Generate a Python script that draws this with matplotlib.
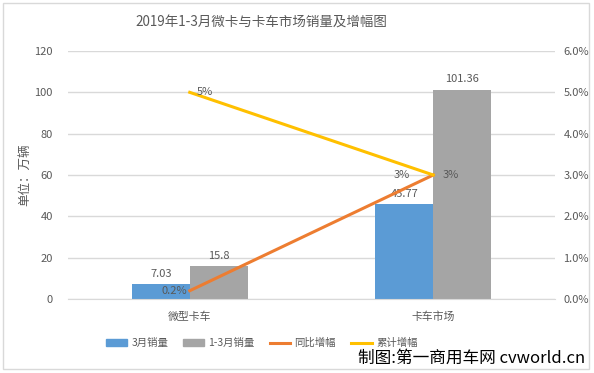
import matplotlib
matplotlib.use("Agg")
import matplotlib.pyplot as plt
from matplotlib.patches import Rectangle
from matplotlib.lines import Line2D
from matplotlib.patches import Patch

plt.rcParams['font.family'] = ['Noto Sans CJK SC', 'DejaVu Sans']

categories = ['微型卡车', '卡车市场']
march_sales = [7.03, 45.77]
q1_sales = [15.8, 101.36]
yoy_growth = [0.2, 3.0]      # percent
cum_growth = [5.0, 3.0]      # percent
yoy_labels = ['0.2%', '3%']
cum_labels = ['5%', '3%']
left_ticks = [0, 20, 40, 60, 80, 100, 120]
right_ticks = [0, 1, 2, 3, 4, 5, 6]

BLUE = '#5B9BD5'
GRAY = '#A5A5A5'
ORANGE = '#ED7D31'
YELLOW = '#FFC000'
TXT = '#595959'
FS = 8

W, H = 594, 373
fig = plt.figure(figsize=(W / 100, H / 100), dpi=100)

# chart border
fig.add_artist(Rectangle((3 / W, 4 / H), 586 / W, 366 / H, transform=fig.transFigure,
                         fill=False, edgecolor='#D9D9D9', linewidth=1))

ax = fig.add_axes([68 / W, (H - 299) / H, (555 - 68) / W, (299 - 51) / H])
ax2 = ax.twinx()

x = list(range(len(categories)))
bw = 0.238
ax.bar([i - bw / 2 for i in x], march_sales, width=bw, color=BLUE, zorder=2)
ax.bar([i + bw / 2 for i in x], q1_sales, width=bw, color=GRAY, zorder=2)

ax.set_xlim(-0.5, 1.5)
ax.set_ylim(0, 120)
ax.set_yticks(left_ticks)
ax.set_yticklabels([str(t) for t in left_ticks])
ax.grid(axis='y', color='#D9D9D9', linewidth=1, zorder=0)
ax.set_axisbelow(True)
ax.set_xticks(x)
ax.set_xticklabels(categories, fontsize=7.8)
for s in ax.spines.values():
    s.set_visible(False)
for s in ax2.spines.values():
    s.set_visible(False)
ax.spines['bottom'].set_visible(True)
ax.spines['bottom'].set_color('#D9D9D9')
ax.tick_params(axis='both', length=0, colors=TXT)
ax.tick_params(axis='y', labelsize=FS, pad=11)
ax.tick_params(axis='x', pad=9)

fig.text(25 / W, 1 - 175 / H, '单位：万辆', rotation=90, ha='center', va='center',
         color=TXT, fontsize=9)

for i in x:
    ax.annotate(f'{march_sales[i]:g}', (i - bw / 2, march_sales[i]), xytext=(0, 4),
                textcoords='offset points', ha='center', va='bottom', color=TXT, fontsize=FS)
    ax.annotate(f'{q1_sales[i]:g}', (i + bw / 2, q1_sales[i]), xytext=(0, 4),
                textcoords='offset points', ha='center', va='bottom', color=TXT, fontsize=FS)

ax2.set_ylim(0, 6)
ax2.set_yticks(right_ticks)
ax2.set_yticklabels([f'{t:.1f}%' for t in right_ticks])
ax2.tick_params(axis='y', length=0, colors=TXT, labelsize=FS, pad=6)

ax2.plot(x, yoy_growth, color=ORANGE, linewidth=2.2, zorder=3)
ax2.plot(x, cum_growth, color=YELLOW, linewidth=2.2, zorder=3)

# line labels
ax2.annotate(yoy_labels[0], (x[0], yoy_growth[0]), xytext=(-2, 0), textcoords='offset points',
             ha='right', va='center', color=TXT, fontsize=FS)
ax2.annotate(yoy_labels[1], (x[1], yoy_growth[1]), xytext=(-17, 0), textcoords='offset points',
             ha='right', va='center', color=TXT, fontsize=FS)
ax2.annotate(cum_labels[0], (x[0], cum_growth[0]), xytext=(5, 0), textcoords='offset points',
             ha='left', va='center', color=TXT, fontsize=FS)
ax2.annotate(cum_labels[1], (x[1], cum_growth[1]), xytext=(7, 0), textcoords='offset points',
             ha='left', va='center', color=TXT, fontsize=FS)

fig.text(261 / W, 1 - 22.5 / H, '2019年1-3月微卡与卡车市场销量及增幅图', ha='center', va='center',
         color=TXT, fontsize=9.7)

handles = [Patch(color=BLUE, label='3月销量'), Patch(color=GRAY, label='1-3月销量'),
           Line2D([], [], color=ORANGE, linewidth=2.2, label='同比增幅'),
           Line2D([], [], color=YELLOW, linewidth=2.2, label='累计增幅')]
leg = fig.legend(handles=handles, loc='center', bbox_to_anchor=(262 / W, 1 - 343 / H), ncol=4,
                 frameon=False, fontsize=7.5, handlelength=2.0, handleheight=0.65,
                 columnspacing=1.45, handletextpad=0.4, borderaxespad=0, borderpad=0)
for t in leg.get_texts():
    t.set_color(TXT)

fig.text(585 / W, 1 - 358 / H, '制图:第一商用车网 cvworld.cn', ha='right', va='center',
         color='#000000', fontsize=12)

fig.savefig('out.png', dpi=100)
